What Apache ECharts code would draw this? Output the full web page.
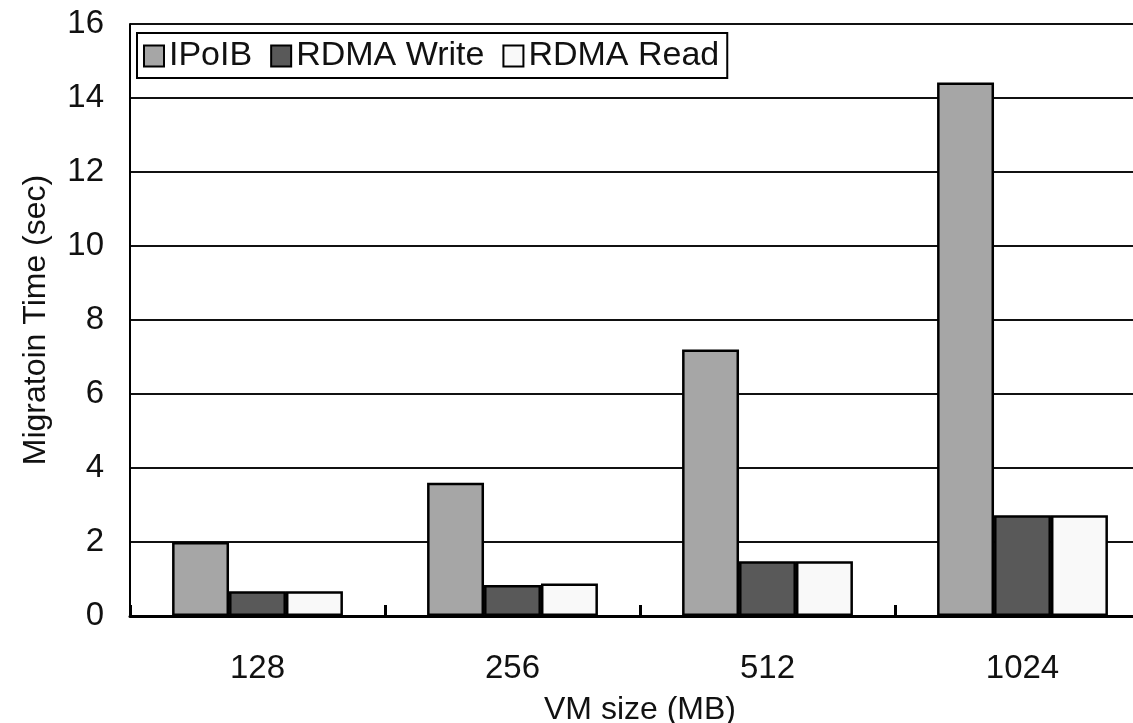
<!DOCTYPE html>
<html>
<head>
<meta charset="utf-8">
<script src="https://cdn.jsdelivr.net/npm/echarts@6/dist/echarts.min.js"></script>
<style>
html,body{margin:0;padding:0;background:#fff;overflow:hidden;}
#chart{width:1133px;height:723px;}
</style>
</head>
<body>
<div id="chart"></div>
<script>
var categories = ['128', '256', '512', '1024'];
var seriesNames = ['IPoIB', 'RDMA Write', 'RDMA Read'];
var ipoib = [2.0, 3.6, 7.2, 14.42];
var rdmaWrite = [0.67, 0.84, 1.48, 2.72];
var rdmaRead = [0.67, 0.88, 1.48, 2.72];
var yTicks = [0, 2, 4, 6, 8, 10, 12, 14, 16];

var FONT = '"Liberation Sans", Arial, sans-serif';
var colors = ['#a6a6a6', '#595959', '#f9f9f9'];
var values = [ipoib, rdmaWrite, rdmaRead];

var chart = echarts.init(document.getElementById('chart'), null, {renderer: 'canvas'});
chart.setOption({
  animation: false,
  backgroundColor: '#ffffff',
  grid: {left: 130, width: 1020, top: 24, height: 592, containLabel: false, outerBoundsMode: 'none'},
  legend: {
    left: 137, top: 33,
    orient: 'horizontal',
    icon: 'rect',
    itemWidth: 20, itemHeight: 21, itemGap: 18,
    padding: [6, 8, 5, 6],
    borderColor: '#000', borderWidth: 2,
    backgroundColor: '#fff',
    textStyle: {fontFamily: FONT, fontSize: 34, color: '#111', padding: [0, 0, 0, 0]},
    data: seriesNames
  },
  xAxis: {
    type: 'category',
    data: categories,
    name: 'VM size (MB)',
    nameLocation: 'middle',
    nameGap: 78,
    nameTextStyle: {fontFamily: FONT, fontSize: 32, color: '#111'},
    axisLine: {lineStyle: {color: '#000', width: 3}},
    axisTick: {show: true, inside: true, length: 11, lineStyle: {color: '#000', width: 3}},
    axisLabel: {fontFamily: FONT, fontSize: 33, color: '#111', margin: 36}
  },
  yAxis: {
    type: 'value',
    min: yTicks[0], max: yTicks[yTicks.length - 1], interval: 2,
    name: 'Migratoin Time (sec)',
    nameLocation: 'middle',
    nameGap: 78,
    nameTextStyle: {fontFamily: FONT, fontSize: 32, color: '#111'},
    axisLine: {show: true, lineStyle: {color: '#000', width: 2}},
    axisTick: {show: false},
    axisLabel: {fontFamily: FONT, fontSize: 33, color: '#111', margin: 26},
    splitLine: {show: true, lineStyle: {color: '#111', width: 2}}
  },
  series: seriesNames.map(function (n, i) {
    return {
      name: n,
      type: 'bar',
      data: values[i],
      barGap: '0%',
      barCategoryGap: '33%',
      itemStyle: {color: colors[i], borderColor: '#000', borderWidth: 2.5}
    };
  })
});
</script>
</body>
</html>
